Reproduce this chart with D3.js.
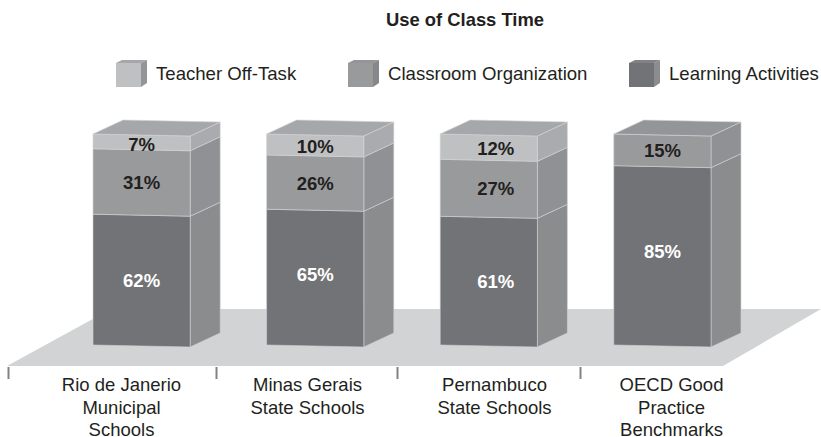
<!DOCTYPE html>
<html>
<head>
<meta charset="utf-8">
<script src="https://cdn.jsdelivr.net/npm/d3@7"></script>
<style>
  html, body { margin: 0; padding: 0; background: #fff; }
  text { font-family: "Liberation Sans", Arial, sans-serif; fill: #231f20; }
</style>
</head>
<body>
<div id="chart"></div>
<script>
// data
var categories = ['Rio de Janerio|Municipal|Schools', 'Minas Gerais|State Schools', 'Pernambuco|State Schools', 'OECD Good|Practice|Benchmarks'];
var seriesNames = ['Learning Activities', 'Classroom Organization', 'Teacher Off-Task'];
var learning = [62, 65, 61, 85];
var organization = [31, 26, 27, 15];
var offTask = [7, 10, 12, 0];

// layout, the picture's spacing is not regular
var svgWidth = 821, svgHeight = 437;
var depthX = 30, depthY = -14, skew = 2;
var labelCenters = [121, 307, 494, 671];
var tickPositions = [8, 216, 397, 580];
var legendOrder = ['Teacher Off-Task', 'Classroom Organization', 'Learning Activities'];
var legendLeft = [116, 348, 629];
var valueShift = [0, 0, 7, 0];
// the value labels are not all centred in their segment
var valueNudge = {
    'Learning Activities': [0, -4, 0, -5],
    'Classroom Organization': [0, 0, 0, 0],
    'Teacher Off-Task': [2, 1, 1, 0]
};

var colors = {
    'Teacher Off-Task': { front: '#bfc0c2', side: '#a9abae', top: '#a5a7aa', label: '#231f20', key: '#939598' },
    'Classroom Organization': { front: '#999a9c', side: '#8f9194', top: '#939598', label: '#231f20', key: '#85878a' },
    'Learning Activities': { front: '#727376', side: '#8a8c8e', top: '#808285', label: '#ffffff', key: '#8a8c8e' }
};

var svg = d3.select('#chart').append('svg')
    .attr('width', svgWidth)
    .attr('height', svgHeight)
    .style('display', 'block');

// title
svg.append('text')
    .attr('x', 465)
    .attr('y', 26)
    .attr('text-anchor', 'middle')
    .attr('font-size', 18.4)
    .attr('font-weight', 'bold')
    .text('Use of Class Time');

// legend
var legendX = d3.scaleOrdinal(legendOrder, legendLeft);
var legend = svg.selectAll('.legend')
    .data(legendOrder)
    .enter()
    .append('g')
    .attr('class', 'legend')
    .attr('transform', d => `translate(${legendX(d)}, 63)`);

legend.append('polygon')
    .attr('points', '0,0 6,-3 31,-3 25,0')
    .attr('fill', d => colors[d].top);
legend.append('polygon')
    .attr('points', '25,0 31,-3 31,20 25,24')
    .attr('fill', d => colors[d].key);
legend.append('rect')
    .attr('width', 25)
    .attr('height', 24)
    .attr('fill', d => colors[d].front);
legend.append('text')
    .attr('x', 40)
    .attr('y', 17)
    .attr('font-size', 18.6)
    .text(d => d);

// floor
svg.append('polygon')
    .attr('points', '7,366 723,366 821,309 111,309')
    .attr('fill', '#d1d3d4');

// stacked bars
var rows = categories.map((c, i) => ({
    category: c,
    'Learning Activities': learning[i],
    'Classroom Organization': organization[i],
    'Teacher Off-Task': offTask[i]
}));

var stacked = d3.stack()
    .keys(seriesNames)
    .offset(d3.stackOffsetExpand)(rows);

var xscale = d3.scaleBand()
    .domain(categories)
    .range([93, 711])
    .paddingInner(0.44);

var yscale = d3.scaleLinear()
    .domain([0, 1])
    .range([345, 134]);

var w = xscale.bandwidth();

var bars = svg.selectAll('.bar')
    .data(categories)
    .enter()
    .append('g')
    .attr('class', 'bar');

bars.each(function (cat, i) {
    var g = d3.select(this);
    var x0 = xscale(cat), x1 = x0 + w;

    stacked.forEach(function (s) {
        var y0 = yscale(s[i][0]), y1 = yscale(s[i][1]);
        if (s[i][1] - s[i][0] <= 0) return;
        var c = colors[s.key];

        // side
        g.append('polygon')
            .attr('points', [[x1, y0 + skew], [x1 + depthX, y0 + skew + depthY], [x1 + depthX, y1 + skew + depthY], [x1, y1 + skew]].join(' '))
            .attr('fill', c.side)
            .attr('stroke', '#d1d3d4')
            .attr('stroke-width', 0.6);

        // front
        g.append('polygon')
            .attr('points', [[x0, y0], [x1, y0 + skew], [x1, y1 + skew], [x0, y1]].join(' '))
            .attr('fill', c.front)
            .attr('stroke', '#d1d3d4')
            .attr('stroke-width', 0.6);

        // top of the stack only
        if (s[i][1] === 1) {
            g.append('polygon')
                .attr('points', [[x0, y1], [x0 + depthX, y1 + depthY], [x1 + depthX, y1 + skew + depthY], [x1, y1 + skew]].join(' '))
                .attr('fill', c.top)
                .attr('stroke', '#d1d3d4')
                .attr('stroke-width', 0.6);
        }
    });

    stacked.forEach(function (s) {
        var share = s[i][1] - s[i][0];
        if (share <= 0) return;
        g.append('text')
            .attr('x', x0 + w / 2 + valueShift[i])
            .attr('y', yscale(s[i][0] + share / 2) + 1 + valueNudge[s.key][i])
            .attr('dy', '0.35em')
            .attr('text-anchor', 'middle')
            .attr('font-size', 18.5)
            .attr('font-weight', 'bold')
            .style('fill', colors[s.key].label)
            .text(rows[i][s.key] + '%');
    });
});

// axis ticks, separators between the categories
var tickScale = d3.scaleOrdinal(categories, tickPositions);
var tickAxis = d3.axisBottom(tickScale).tickSize(12).tickFormat('');
var tickGroup = svg.append('g')
    .attr('transform', 'translate(0, 367)')
    .call(tickAxis);
tickGroup.select('.domain').remove();
tickGroup.selectAll('line')
    .attr('stroke', '#808285')
    .attr('stroke-width', 2);

// axis labels
var labelScale = d3.scaleOrdinal(categories, labelCenters);
var labelAxis = d3.axisBottom(labelScale).tickSize(0).tickFormat('');
var labelGroup = svg.append('g')
    .attr('transform', 'translate(0, 367)')
    .call(labelAxis);
labelGroup.select('.domain').remove();
labelGroup.selectAll('.tick text').remove();
labelGroup.selectAll('.tick')
    .append('text')
    .attr('text-anchor', 'middle')
    .attr('font-size', 18.5)
    .selectAll('tspan')
    .data(d => d.split('|'))
    .enter()
    .append('tspan')
    .attr('x', 0)
    .attr('y', (d, i) => 24 + i * 22.5)
    .text(d => d);
</script>
</body>
</html>
